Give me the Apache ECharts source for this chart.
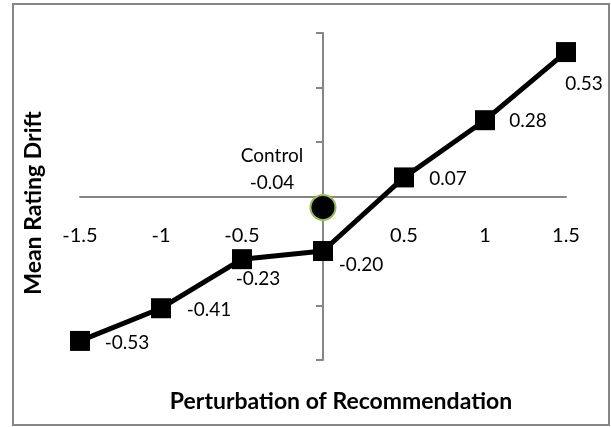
<!DOCTYPE html>
<html>
<head>
<meta charset="utf-8">
<script src="https://cdn.jsdelivr.net/npm/echarts@6/dist/echarts.min.js"></script>
<style>html,body{margin:0;padding:0;background:#fff}#c{width:611px;height:427px}</style>
</head>
<body>
<div id="c"></div>
<script>
// ---- data ----
const perturbation = [-1.5, -1, -0.5, 0, 0.5, 1, 1.5];
const meanDrift = [-0.53, -0.41, -0.23, -0.20, 0.07, 0.28, 0.53];
const controlX = [0];
const controlY = [-0.04];
const controlName = 'Control';
const xTitle = 'Perturbation of Recommendation';
const yTitle = 'Mean Rating Drift';

// ---- label placement (style) ----
const labelOffsets = [[47, 2], [48, 2], [16, 20], [38, 14], [44, 1], [43, 1], [18, 32]];

const FONT = 'Lato';
const chart = echarts.init(document.getElementById('c'));
chart.setOption({
  animation: false,
  backgroundColor: '#fff',
  grid: { left: 80, right: 45, top: 33, bottom: 67, containLabel: false, outerBoundsMode: 'none' },
  graphic: [{
    type: 'rect', shape: { x: 13, y: 4, width: 596, height: 421 },
    style: { fill: 'none', stroke: '#868686', lineWidth: 2 }, silent: true
  }, {
    type: 'text', x: 341, y: 402,
    style: { text: xTitle, fontFamily: FONT, fontWeight: 'bold', fontSize: 23, fill: '#000',
             align: 'center', verticalAlign: 'middle' }, silent: true
  }, {
    type: 'text', x: 34, y: 203, rotation: Math.PI / 2,
    style: { text: yTitle, fontFamily: FONT, fontWeight: 'bold', fontSize: 23, fill: '#000',
             align: 'center', verticalAlign: 'middle' }, silent: true
  }],
  xAxis: {
    type: 'value', min: -1.5, max: 1.5, interval: 0.5,
    offset: -163.5,
    axisLine: { onZero: false, lineStyle: { color: '#868686', width: 2 } },
    axisTick: { show: false },
    splitLine: { show: false },
    axisLabel: {
      margin: 29, color: '#000', fontFamily: FONT, fontSize: 20,
      formatter: v => (Math.abs(v) < 1e-9 ? '' : String(v))
    }
  },
  yAxis: {
    type: 'value', min: -0.6, max: 0.6, interval: 0.2,
    axisLine: { onZero: true, lineStyle: { color: '#868686', width: 2 } },
    axisTick: { show: true, length: 7, lineStyle: { color: '#868686', width: 2 } },
    splitLine: { show: false },
    axisLabel: { show: false }
  },
  series: [{
    type: 'line',
    data: perturbation.map((x, i) => ({
      value: [x, meanDrift[i]],
      label: { offset: labelOffsets[i] }
    })),
    symbol: 'rect', symbolSize: 20,
    itemStyle: { color: '#000', opacity: 1 },
    lineStyle: { color: '#000', width: 5 },
    label: {
      show: true, position: 'inside', align: 'center', verticalAlign: 'middle',
      color: '#000', fontFamily: FONT, fontSize: 19,
      formatter: p => p.value[1].toFixed(2)
    },
    z: 3
  }, {
    type: 'scatter',
    data: controlX.map((x, i) => [x, controlY[i]]),
    symbol: 'circle', symbolSize: 25,
    itemStyle: { color: '#000', borderColor: '#9BBB59', borderWidth: 2, opacity: 1 },
    label: {
      show: true, position: 'inside', offset: [-51, -38],
      align: 'center', verticalAlign: 'middle', lineHeight: 27,
      color: '#000', fontFamily: FONT, fontSize: 19,
      formatter: p => controlName + '\n' + p.value[1].toFixed(2)
    },
    z: 4
  }]
});
</script>
</body>
</html>
